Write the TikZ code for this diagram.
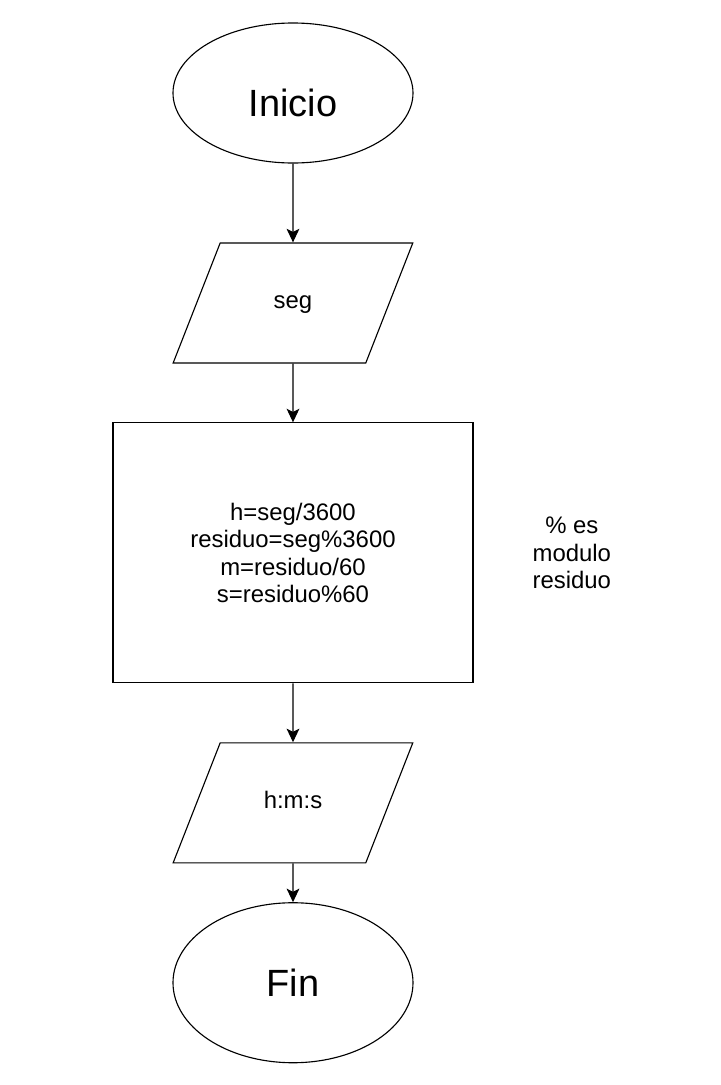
\documentclass[tikz,border=0pt]{standalone}
\usepackage{fontspec}
\setmainfont{Liberation Sans}
\usetikzlibrary{shapes.geometric,arrows.meta,positioning}
\tikzset{terminal/.style={ellipse,draw=black,thick,minimum width=6cm,font=\fontsize{27}{32}\selectfont}}
\tikzset{inout/.style={trapezium,trapezium left angle=68.6,trapezium right angle=111.4,draw=black,thick,text width=2cm,align=center,text height=0.45cm,text depth=0.15cm,inner xsep=0.82cm,inner ysep=1.2cm,font=\fontsize{17}{19.6}\selectfont}}
\tikzset{process/.style={rectangle,draw=black,thick,minimum width=9cm,minimum height=6.5cm,align=center,font=\fontsize{17}{19.6}\selectfont}}
\tikzset{comment/.style={align=center,inner sep=0pt,font=\fontsize{17}{19.6}\selectfont}}
\tikzset{toArrow/.style={{Stealth[length=3.4mm,width=3.2mm,inset=0.8mm]}-,thick}}

\begin{document}
\begin{tikzpicture}
\useasboundingbox (-7.325,2.325) rectangle (10.675,-24.8);
\begin{scope}[node distance=14.7mm]
	\node (inicio) [terminal, minimum height=3.5cm, text height=1.18cm] at (0,0) {Inicio} ;
	\node (seg) [inout, below =19.7mm of inicio] {seg} edge [toArrow] (inicio) ;
	\node (calc) [process, below =of seg] {h=seg/3600\\residuo=seg\%3600\\m=residuo/60\\s=residuo\%60} edge [toArrow] (seg) ;
	\node (nota) [comment, right =of calc] {\% es\\modulo\\residuo} ;
	\node (hms) [inout, below =of calc] {h:m:s} edge [toArrow] (calc) ;
	\node (fin) [terminal, minimum height=4cm, below =9.7mm of hms] {Fin} edge [toArrow] (hms) ;
\end{scope}
\end{tikzpicture}
\end{document}
